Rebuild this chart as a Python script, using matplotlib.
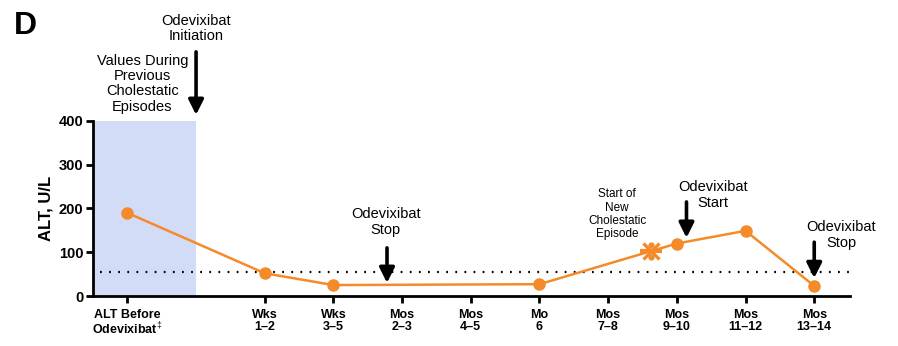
import matplotlib
matplotlib.use("Agg")
import matplotlib.pyplot as plt
from matplotlib.patches import Rectangle

plt.rcParams['font.family'] = ['Liberation Sans', 'DejaVu Sans']
plt.rcParams['mathtext.fontset'] = 'custom'
plt.rcParams['mathtext.rm'] = 'Liberation Sans'
plt.rcParams['mathtext.bf'] = 'Liberation Sans:bold'

# Timepoint categories and their positions on the x axis
tick_labels = ["ALT Before\nOdevixibat$^{\\ddagger}$", "Wks\n1\u20132", "Wks\n3\u20135",
               "Mos\n2\u20133", "Mos\n4\u20135", "Mo\n6", "Mos\n7\u20138",
               "Mos\n9\u201310", "Mos\n11\u201312", "Mos\n13\u201314"]
tick_pos = [0, 2, 3, 4, 5, 6, 7, 8, 9, 10]

# ALT measurements (U/L)
alt_x = [0, 2, 3, 6, 8, 9, 10]
alt_y = [190, 52, 25, 27, 120, 149, 23]

# Start of new cholestatic episode
episode_x = 7.63
episode_y = 103

# Upper limit of normal
uln = 55

orange = '#F58A2B'

fig = plt.figure(figsize=(8.98, 3.46), dpi=100)
ax = fig.add_axes([0.1036, 0.1445, 0.8429, 0.5058])

ax.add_patch(Rectangle((-0.5, 0), 1.5, 400, facecolor='#D3DCF6', edgecolor='none', zorder=0))

ax.plot([-0.4, 10.5], [uln, uln], color='black', lw=1.6, ls=(0, (0.8, 3.3)), zorder=1)

ax.plot(alt_x, alt_y, color=orange, lw=1.8, marker='o', ms=8, zorder=3, clip_on=False)

# episode marker: cross, bar and two dots
ax.plot(episode_x, episode_y, marker='x', ms=11, mew=2.4, color=orange, zorder=4)
ax.plot(episode_x, episode_y, marker='_', ms=16, mew=3, color=orange, zorder=4)
ax.plot([episode_x, episode_x], [episode_y + 14, episode_y - 14], ls='none', marker='o',
        ms=3.5, color=orange, zorder=4)

ax.set_xlim(-0.5, 10.52)
ax.set_ylim(0, 400)
ax.set_yticks([0, 100, 200, 300, 400])
ax.set_xticks(tick_pos)
ax.set_xticklabels(tick_labels, fontsize=9, fontweight='bold', linespacing=1.05)
for lbl in ax.get_yticklabels():
    lbl.set_fontsize(10.5)
    lbl.set_fontweight('bold')

for s in ['top', 'right']:
    ax.spines[s].set_visible(False)
for s in ['left', 'bottom']:
    ax.spines[s].set_linewidth(2)
ax.tick_params(axis='both', width=2, length=5, color='black', direction='out')
ax.tick_params(axis='y', pad=2)
ax.tick_params(axis='x', pad=4)

ax.set_ylabel("ALT, U/L", fontsize=12, fontweight='bold', labelpad=4)

arrow_kw = dict(arrowstyle='-|>,head_length=0.9,head_width=0.45', color='black', lw=2.6,
                shrinkA=0, shrinkB=0)

def down_arrow(x, y0, y1):
    ax.annotate('', xy=(x, y1), xytext=(x, y0), xycoords='data', textcoords='data',
                arrowprops=arrow_kw, annotation_clip=False)

txt_kw = dict(ha='center', va='center', fontsize=10.5, linespacing=1.12, clip_on=False)

ax.text(1.0, 611, "Odevixibat\nInitiation", **txt_kw)
down_arrow(1.0, 558, 414)
ax.text(0.22, 485, "Values During\nPrevious\nCholestatic\nEpisodes", **txt_kw)

ax.text(3.76, 170, "Odevixibat\nStop", **dict(txt_kw, linespacing=1.2))
down_arrow(3.78, 110, 30)

ax.text(7.13, 187, "Start of\nNew\nCholestatic\nEpisode", ha='center', va='center',
        fontsize=8.5, linespacing=1.15)

ax.text(8.52, 231, "Odevixibat\nStart", **dict(txt_kw, linespacing=1.2))
down_arrow(8.14, 215, 133)

ax.text(10.39, 139, "Odevixibat\nStop", **dict(txt_kw, linespacing=1.2))
down_arrow(10.0, 123, 41)

fig.text(0.016, 0.925, "D", fontsize=23, fontweight='bold', ha='left', va='center')

fig.savefig("out.png", dpi=100)
